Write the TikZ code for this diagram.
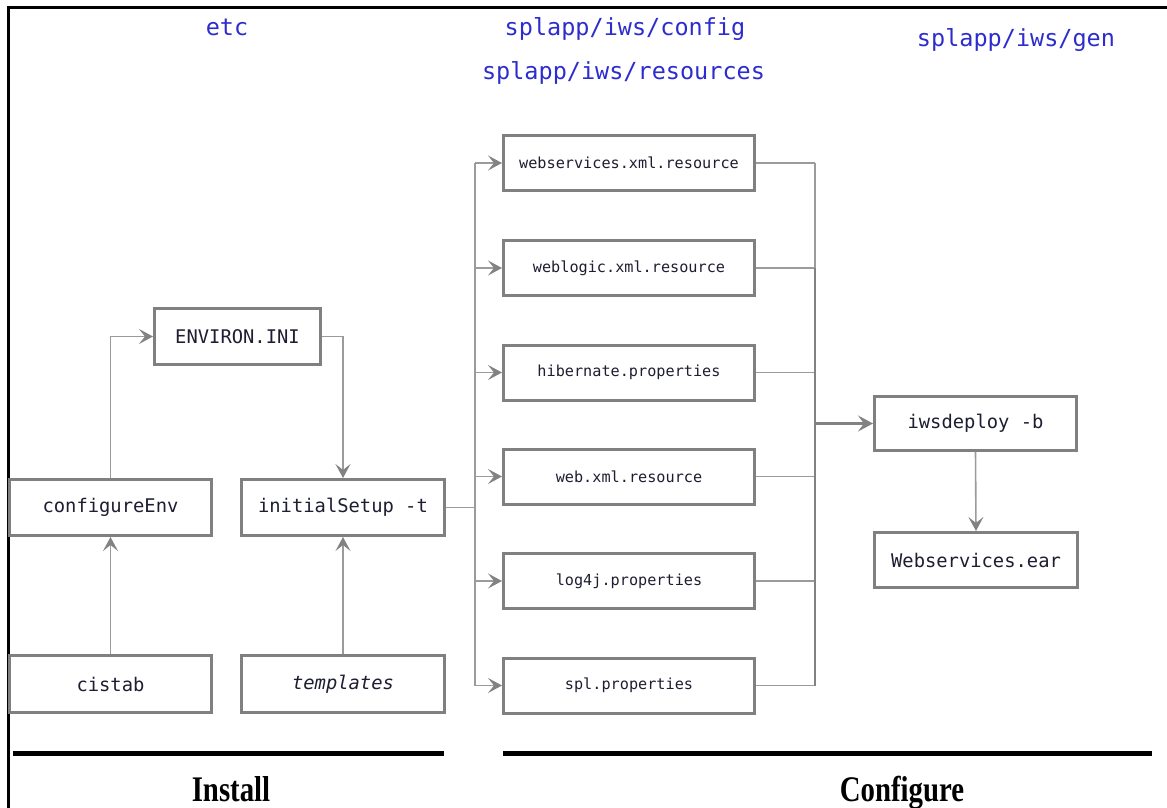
\documentclass[tikz,border=0pt]{standalone}
\usepackage{fontspec}
\usetikzlibrary{arrows.meta,calc}
\newfontfamily\monofnt{DejaVu Sans Mono}
\newfontfamily\capfnt{Liberation Serif}
\definecolor{hdblue}{RGB}{45,45,205}
\definecolor{boxgray}{RGB}{128,128,128}
\definecolor{lingray}{RGB}{155,155,155}
\definecolor{dkgray}{RGB}{130,130,130}
\definecolor{txtdark}{RGB}{30,30,50}
\tikzset{
  x=1pt,y=-1pt,
  bigbox/.style={draw=boxgray,line width=3pt,fill=white,inner sep=0pt,
    minimum width=202pt,minimum height=56pt,text=txtdark,
    font=\monofnt\fontsize{18.8}{22}\selectfont},
  colbox/.style={draw=boxgray,line width=3pt,fill=white,inner sep=0pt,
    minimum width=251pt,minimum height=55pt,text=txtdark,
    font=\monofnt\fontsize{15.2}{18}\selectfont},
  heading/.style={anchor=base,text=hdblue,inner sep=0pt,
    font=\monofnt\fontsize{23.5}{28}\selectfont},
  phase/.style={anchor=base,inner sep=0pt,
    font=\capfnt\bfseries\fontsize{36}{40}\selectfont},
  conn/.style={draw=lingray,line width=1.6pt},
  conndk/.style={draw=dkgray,line width=2.2pt},
  arr/.style={conn,-{Stealth[length=14pt,width=15pt,inset=6pt,color=dkgray]}},
  arrdk/.style={conndk,-{Stealth[length=15pt,width=16pt,inset=6pt]}},
}
\begin{document}
\begin{tikzpicture}
\useasboundingbox (0,0) rectangle (1167,808);
% frame
\draw[line width=3pt,line cap=rect] (1170,8) -- (8,8) -- (8,812);

% headings
\node[heading] (hetc) at (227,36) {etc};
\node[heading] (hcfg) at (625,36) {splapp/iws/config};
\node[heading] (hres) at (623.5,80) {splapp/iws/resources};
\node[heading] (hgen) at (1016,47) {splapp/iws/gen};

% left boxes
\node[bigbox,minimum width=166pt] (envini) at (237.5,336.5) {ENVIRON.INI};
\node[bigbox] (confenv) at (110.5,507.5) {configureEnv};
\node[bigbox,minimum width=203pt] (initsetup) at (343,507.5) {initialSetup -t};
\node[bigbox,minimum height=57pt] (cistab) at (110.5,684) {cistab};
\node[bigbox,minimum width=203pt,minimum height=57pt] (templates) at (343,684) {\itshape templates};

% column boxes
\node[colbox] (wsx) at (629,163) {webservices.xml.resource};
\node[colbox] (wlx) at (629,268) {weblogic.xml.resource};
\node[colbox] (hib) at (629,372.5) {hibernate.properties};
\node[colbox] (wbx) at (629,476.5) {web.xml.resource};
\node[colbox] (l4j) at (629,581) {log4j.properties};
\node[colbox] (spl) at (629,685.5) {spl.properties};

% right boxes
\node[bigbox,minimum height=54pt] (iws) at (975.5,423.5) {iwsdeploy -b};
\node[bigbox,minimum width=203pt,minimum height=55pt] (ear) at (976,560) {Webservices.ear};

% buses
\coordinate (lbtop) at (475,163);
\coordinate (lbbot) at (475,685.5);
\coordinate (rbtop) at (815,163);
\coordinate (rbmid) at (815,268);
\coordinate (rbbot) at (815,685.5);

% left part connectors
\draw[arr] (confenv.north) |- (envini.west);
\draw[arr] (envini.east) -| (initsetup.north);
\draw[arr] (cistab.north) -- (confenv.south);
\draw[arr] (templates.north) -- (initsetup.south);

% initialSetup to column
\draw[conn] (lbtop) -- (lbbot);
\draw[conn] (initsetup.east) -- (initsetup.east -| lbtop);
\foreach \b in {wsx,wlx,hib,wbx,l4j,spl}{
  \draw[arr] (\b.west -| lbtop) -- (\b.west);
  \draw[conn] (\b.east) -- (\b.east -| rbtop);
}
\draw[conn] (rbtop) -- (rbmid);
\draw[conndk] (rbmid) -- (rbbot);
\draw[arrdk] (iws.west -| rbtop) -- (iws.west);
\draw[arr] (iws.south) -- (ear.north);

% phase bars
\coordinate (ibarl) at (13,753);
\coordinate (ibarr) at (444,753);
\coordinate (cbarl) at (503,753);
\coordinate (cbarr) at (1152,753);
\draw[line width=5pt] (ibarl) -- (ibarr);
\draw[line width=5pt] (cbarl) -- (cbarr);
\node[phase] (install) at (231,801) {\scalebox{0.8}[1]{Install}};
\node[phase] (configure) at (902,801) {\scalebox{0.8}[1]{Configure}};
\end{tikzpicture}
\end{document}
